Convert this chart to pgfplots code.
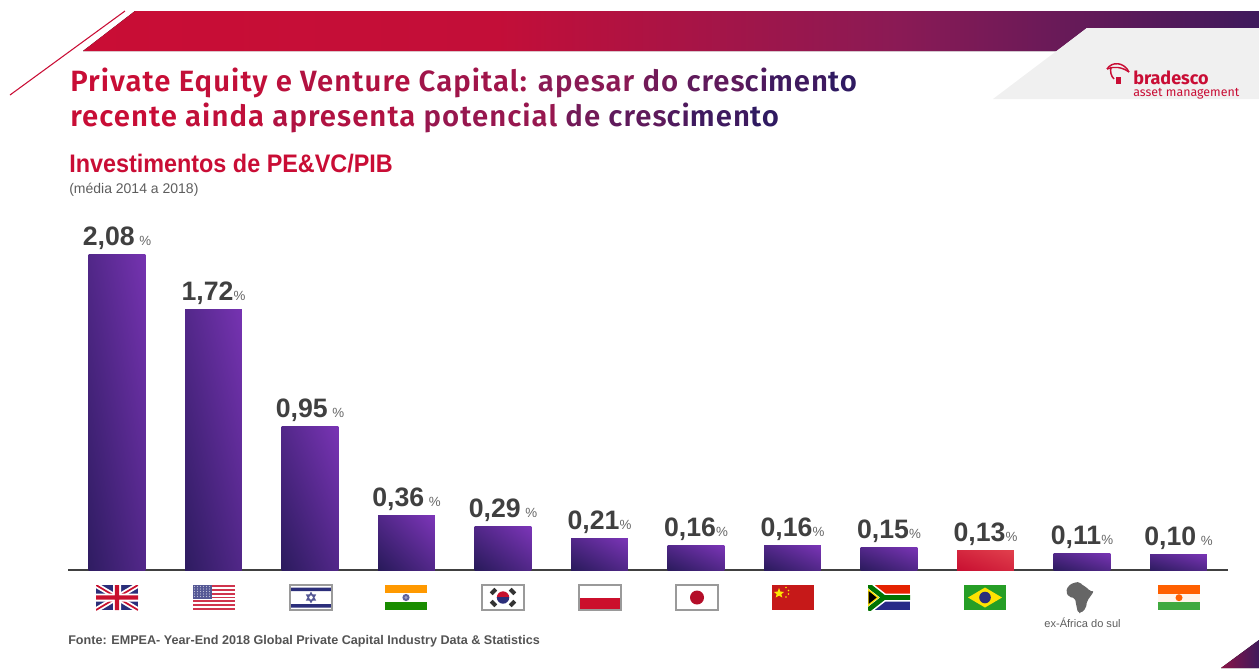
\documentclass[border=0pt]{standalone}
\usepackage{fontspec}
\usepackage{graphicx}
\usepackage{pgfplots}
\pgfplotsset{compat=1.18}
\setmainfont{Liberation Sans}
\newfontfamily\logofont{Fira Sans}
\newfontfamily\titlefont[LetterSpace=3.6]{Fira Sans SemiBold}

\definecolor{bred}{HTML}{C90D35}
\definecolor{bmid}{HTML}{8A1A55}
\definecolor{bend}{HTML}{2A1A62}
\definecolor{bpurple}{HTML}{3F1A5C}
\definecolor{barlo}{HTML}{281A5A}
\definecolor{barhi}{HTML}{7C35B8}
\definecolor{brlo}{HTML}{C70D30}
\definecolor{brhi}{HTML}{E2424E}
\definecolor{txt}{HTML}{404040}
\definecolor{fblue}{HTML}{2B2E7A}
\definecolor{fred}{HTML}{C8102E}
\definecolor{fgrey}{HTML}{9A9A9A}

% the bbox of a shaded path is the 25bp..75bp square of the shading
\pgfdeclarehorizontalshading{band}{100bp}{color(0bp)=(bred); color(25bp)=(bred);
  color(42.7bp)=(bred!90!bmid); color(59.7bp)=(bmid); color(75bp)=(bpurple); color(100bp)=(bpurple)}
\pgfdeclareverticalshading{barpurple}{100bp}{color(0bp)=(barlo); color(15bp)=(barlo);
  color(85bp)=(barhi); color(100bp)=(barhi)}
\pgfdeclareverticalshading{barred}{100bp}{color(0bp)=(brlo); color(15bp)=(brlo);
  color(85bp)=(brhi); color(100bp)=(brhi)}

\newcommand{\tw}[2]{\textcolor{bred!#1!bmid}{#2}}
\newcommand{\tx}[2]{\textcolor{bmid!#1!bend}{#2}}
\newcommand{\flagat}[2]{\begin{scope}[shift={(#1,585)}]#2\end{scope}}

\begin{document}
\begin{tikzpicture}
\begin{scope}[x=0.75pt,y=-0.75pt]
\path[use as bounding box] (0,0) rectangle (1259,668);

% header
\fill[shading=band,shade] (83,51) -- (135,11) -- (1259,11) -- (1259,51) -- cycle;
\fill[white] (1057,51) -- (1087,28) -- (1259,28) -- (1259,99) -- (993,99) -- cycle;
\fill[black!6] (993,99) -- (1087,28) -- (1259,28) -- (1259,99) -- cycle;
\draw[bred,line width=0.8pt] (125,11) -- (10,95);
\fill[left color=bred!55!bpurple,right color=bpurple] (1221,668) -- (1259,640) -- (1259,668) -- cycle;

% logo
\begin{scope}[bred,line width=1.1pt]
\draw (1107,69) .. controls (1112,61) and (1124,62) .. (1129,72);
\draw (1107,69) .. controls (1114,66) and (1122,67) .. (1129,72);
\draw (1111,67) .. controls (1110,72) and (1111,76) .. (1114,79);
\fill (1116,77) rectangle (1121,84);
\end{scope}
\node[anchor=base west,inner sep=0pt,text=bred] at (1133,84) {\logofont\bfseries\fontsize{13.5}{13.5}\selectfont bradesco};
\node[anchor=base west,inner sep=0pt,text=bred] at (1133,96.5) {\logofont\fontsize{9.3}{9.3}\selectfont asset management};

% titles
\node[anchor=base west,inner sep=0pt] at (70,91) {\titlefont\fontsize{22}{22}\selectfont
  \tw{98}{Private} \tw{88}{Equity} \tw{78}{e} \tw{62}{Venture} \tw{35}{Capital:} \tw{0}{apesar} \tx{75}{do} \tx{55}{cres}\tx{38}{ci}\tx{22}{men}\tx{5}{to}};
\node[anchor=base west,inner sep=0pt] at (70,126) {\titlefont\fontsize{22}{22}\selectfont
  \tw{98}{recente} \tw{85}{ainda} \tw{60}{apresenta} \tw{20}{potencial} \tx{75}{de} \tx{55}{cres}\tx{38}{ci}\tx{22}{men}\tx{5}{to}};
\node[anchor=base west,inner sep=0pt,text=bred] at (69,172) {\bfseries\fontsize{19}{19}\selectfont\scalebox{0.923}[1]{Investimentos de PE\&VC/PIB}};
\node[anchor=base west,inner sep=0pt,text=txt!85] at (69,193) {\fontsize{10.5}{10.5}\selectfont (média 2014 a 2018)};
\node[anchor=base west,inner sep=0pt,text=txt!90] at (68,644) {\bfseries\fontsize{9.45}{9.45}\selectfont Fonte: EMPEA- Year-End 2018 Global Private Capital Industry Data \& Statistics};
\node[inner sep=0pt,text=txt!85] at (1082.5,623) {\fontsize{8.3}{8.3}\selectfont ex-África do sul};

% flags
\flagat{96}{\begin{scope}
  \clip (0,0) rectangle (42,25);
  \fill[fblue] (0,0) rectangle (42,25);
  \draw[white,line width=4pt] (0,0) -- (42,25) (0,25) -- (42,0);
  \draw[fred,line width=1.3pt] (0,0) -- (42,25) (0,25) -- (42,0);
  \fill[white] (17,0) rectangle (25,25) (0,8.5) rectangle (42,16.5);
  \fill[fred] (18.8,0) rectangle (23.2,25) (0,10.3) rectangle (42,14.7);
\end{scope}}
\flagat{193}{
  \fill[white] (0,0) rectangle (42,25);
  \foreach \s in {0,2,...,12}{\fill[fred!85] (0,{\s*25/13}) rectangle (42,{(\s+1)*25/13});}
  \fill[fblue!80] (0,0) rectangle (19,13.5);
  \foreach \a in {1.5,4.5,...,18}{\foreach \b in {1.5,4,...,13}{\fill[white!70!fblue] (\a,\b) circle (0.7);}}
}
\flagat{290}{
  \fill[white] (0,0) rectangle (42,25);
  \fill[fblue] (1,2.5) rectangle (41,6) (1,19) rectangle (41,22.5);
  \draw[fblue!80,line width=0.9pt] (21,7.8) -- (25.2,15) -- (16.8,15) -- cycle (21,17.2) -- (25.2,10) -- (16.8,10) -- cycle;
  \draw[fgrey,line width=0.8pt] (0,0) rectangle (42,25);
}
\flagat{385}{
  \fill[white] (0,0) rectangle (42,25);
  \fill[orange!80!yellow] (0,0) rectangle (42,8.3);
  \fill[green!50!black!90!yellow] (0,16.7) rectangle (42,25);
  \fill[fblue!75] (21,12.5) circle (3.6);
  \fill[white!55!fblue] (21,12.5) circle (1.6);
}
\flagat{482}{
  \fill[white] (0,0) rectangle (42,25);
  \begin{scope}\clip (14,6) rectangle (28,12.5); \fill[fred] (21,12.5) circle (6.2);\end{scope}
  \begin{scope}\clip (14,12.5) rectangle (28,19); \fill[fblue] (21,12.5) circle (6.2);\end{scope}
  \foreach \cx/\cy/\r in {11.5/6.5/45,30.5/6.5/-45,11.5/18.5/-45,30.5/18.5/45}{
    \fill[black!80,rotate around={\r:(\cx,\cy)}] (\cx-3.2,\cy-2) rectangle (\cx+3.2,\cy+2);}
  \draw[fgrey,line width=0.8pt] (0,0) rectangle (42,25);
}
\flagat{579}{
  \fill[white] (0,0) rectangle (42,12.5);
  \fill[fred!95!red] (0,12.5) rectangle (42,25);
  \draw[fgrey,line width=0.8pt] (0,0) rectangle (42,25);
}
\flagat{676}{
  \fill[white] (0,0) rectangle (42,25);
  \fill[fred!90!black] (21,12.5) circle (7);
  \draw[fgrey,line width=0.8pt] (0,0) rectangle (42,25);
}
\flagat{772}{
  \fill[red!75!black!90!white] (0,0) rectangle (42,25);
  \fill[yellow!90!orange] (7,3) -- (8.3,6.5) -- (12,7) -- (9.3,9.2) -- (10.3,12.5) -- (7,10.6) -- (3.7,12.5) -- (4.7,9.2) -- (2,7) -- (5.7,6.5) -- cycle;
  \foreach \a/\b in {14/2.5,16.5/5.5,16.5/9,14/12}{\fill[yellow!90!orange] (\a,\b) circle (0.9);}
}
\flagat{868}{\begin{scope}
  \clip (0,0) rectangle (42,25);
  \fill[red!70!orange!90!black] (0,0) rectangle (42,12.5);
  \fill[fblue!90!blue] (0,12.5) rectangle (42,25);
  \draw[white,line width=6pt] (0,0) -- (16,12.5) -- (42,12.5) (0,25) -- (16,12.5);
  \draw[green!45!black,line width=3.6pt] (0,0) -- (16,12.5) -- (42,12.5) (0,25) -- (16,12.5);
  \fill[black,draw=yellow!85!orange,line width=1pt] (0,4.5) -- (10,12.5) -- (0,20.5) -- cycle;
\end{scope}}
\flagat{964}{
  \fill[green!55!black!85!white] (0,0) rectangle (42,25);
  \fill[yellow!85!orange] (21,2.5) -- (38,12.5) -- (21,22.5) -- (4,12.5) -- cycle;
  \fill[fblue] (21,12.5) circle (5.8);
}
\begin{scope}[shift={(1066,582)}]
  \fill[black!60,rounded corners=1.5pt] (8,0.5) -- (14,0) -- (17,4) -- (21,5) -- (23,9) -- (28,9) -- (24,15) -- (21,19) -- (20,26) -- (15,31) -- (12,31) -- (10,22) -- (9,16) -- (3,15) -- (0,10) -- (2,4) -- cycle;
\end{scope}
\flagat{1158}{
  \fill[white!92!orange] (0,0) rectangle (42,25);
  \fill[orange!75!red] (0,0) rectangle (42,8.8);
  \fill[green!55!black!75!white] (0,16.7) rectangle (42,25);
  \fill[orange!75!red] (21,12.7) circle (3.5);
}
\end{scope}

\begin{axis}[
    at={(51pt,-427.5pt)},
    anchor=south west,
    scale only axis,
    width=870pt,
    height=277.5pt,
    xmin=-0.508, xmax=11.513,
    ymin=0, ymax=2.442,
    axis x line*=bottom,
    axis y line=none,
    x axis line style={draw=txt,line width=0.8pt,-},
    xtick=\empty, ytick=\empty,
    clip=false,
    ybar,
    bar width=42.5pt,
    bar shift=0pt,
    point meta=explicit symbolic,
    nodes near coords={\pgfplotspointmeta{\fontsize{10}{10}\selectfont\mdseries\textcolor{txt!80}{\%}}},
    nodes near coords align={vertical},
    every node near coord/.append style={font=\bfseries\fontsize{20}{20}\selectfont,text=txt,inner sep=0pt,yshift=3.5pt},
    purplebar/.style={draw=none,shade,shading=barpurple,shading angle=#1},
    redbar/.style={draw=none,shade,shading=barred,shading angle=#1},
]
% one plot per bar: a shading fills the whole path of a plot
\addplot[purplebar=-80] coordinates {(0,2.08) [2,08\,]};
\addplot[purplebar=-77] coordinates {(1,1.72) [1,72]};
\addplot[purplebar=-68] coordinates {(2,0.95) [0,95\,]};
\addplot[purplebar=-45] coordinates {(3,0.36) [0,36\,]};
\addplot[purplebar=-38] coordinates {(4,0.29) [0,29\,]};
\addplot[purplebar=-29] coordinates {(5,0.21) [0,21]};
\addplot[purplebar=-24] coordinates {(6,0.16) [0,16]};
\addplot[purplebar=-24] coordinates {(7,0.16) [0,16]};
\addplot[purplebar=-21] coordinates {(8,0.15) [0,15]};
\addplot[redbar=-20] coordinates {(9,0.13) [0,13]};
\addplot[purplebar=-17] coordinates {(10,0.11) [0,11]};
\addplot[purplebar=-15] coordinates {(11,0.10) [0,10\,]};
\end{axis}
\end{tikzpicture}
\end{document}
